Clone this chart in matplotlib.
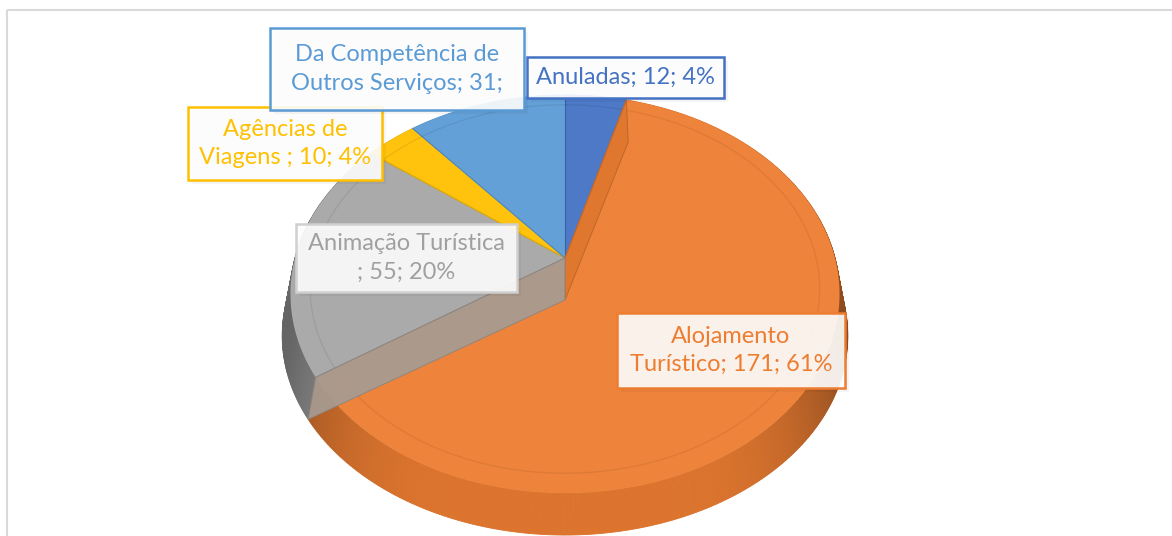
import numpy as np
import matplotlib.pyplot as plt
from matplotlib.patches import Polygon, Rectangle
from matplotlib.colors import to_rgb

# data
categories = ["Anuladas", "Alojamento Turístico", "Animação Turística",
              "Agências de Viagens", "Da Competência de Outros Serviços"]
values = [12, 171, 55, 10, 31]
label_texts = ["Anuladas; 12; 4%",
               "Alojamento\nTurístico; 171; 61%",
               "Animação Turística\n; 55; 20%",
               "Agências de\nViagens ; 10; 4%",
               "Da Competência de\nOutros Serviços; 31;"]
colors = ["#4472C4", "#ED7D31", "#A5A5A5", "#FFC000", "#5B9BD5"]
text_colors = ["#4472C4", "#ED7D31", "#A0A0A0", "#FFC000", "#5B9BD5"]
box_edges = ["#4472C4", "#ED7D31", "#D0D0D0", "#FFC000", "#5B9BD5"]

# layout (pixels)
W, H = 1172, 536
CX, CY = 565, 258          # centre of the top face
RX, RY = 270, 192.5
PERSP = 0.181
DEPTH = 42
WALL_SCALE = 1.03
label_boxes = [(527, 57, 724, 98), (617, 313, 845, 388), (296, 224, 517, 292),
               (188, 107, 382, 180), (270, 28, 524, 110)]
draw_order = [2, 3, 4, 0, 1]   # labels drawn back to front


def top_pt(t, r=1.0):
    u = r * np.sin(t)
    v = -r * np.cos(t)
    w = 1 - PERSP * v
    return CX + RX * u / w, CY + RY * v / w


def bot_pt(t):
    x, y = top_pt(t)
    return CX + (x - CX) * WALL_SCALE, y + DEPTH


def shade(c, f):
    r, g, b = to_rgb(c)
    return (r * f, g * f, b * f)


def mix(c1, c2, k):
    a, b = np.array(to_rgb(c1)), np.array(to_rgb(c2))
    return tuple(a * (1 - k) + b * k)


fig = plt.figure(figsize=(W / 100, H / 100), dpi=100)
ax = fig.add_axes([0, 0, 1, 1])
ax.set_xlim(0, W)
ax.set_ylim(H, 0)
ax.axis("off")

total = sum(values)
bounds = np.concatenate([[0], np.cumsum(values) / total * 2 * np.pi])

# side walls
for i in range(len(values)):
    n = max(int(2 * np.degrees(bounds[i + 1] - bounds[i])), 2)
    ts = np.linspace(bounds[i], bounds[i + 1], n)
    for t0, t1 in zip(ts[:-1], ts[1:]):
        x0, y0 = top_pt(t0)
        x1, y1 = top_pt(t1)
        bx0, by0 = bot_pt(t0)
        bx1, by1 = bot_pt(t1)
        s = abs(((x0 + x1) / 2 - CX) / RX)
        c = shade(colors[i], 0.93 - 0.3 * s ** 5)
        ax.add_patch(Polygon([(x0, y0), (x1, y1), (bx1, by1), (bx0, by0)],
                             closed=True, fc=c, ec=c, lw=0.6, zorder=1))

# top faces
for i in range(len(values)):
    ts = np.linspace(bounds[i], bounds[i + 1], 200)
    pts = [(CX, CY)] + [top_pt(t) for t in ts]
    ax.add_patch(Polygon(pts, closed=True, fc=mix(colors[i], "white", 0.05),
                         ec="none", zorder=2))
    ax.plot([CX, pts[1][0]], [CY, pts[1][1]], color=shade(colors[i], 0.85),
            lw=0.8, zorder=2.5)

# faint bevel ring on the top face
ring = np.array([top_pt(t, 0.93) for t in np.linspace(0, 2 * np.pi, 400)])
ax.plot(ring[:, 0], ring[:, 1], color="black", alpha=0.07, lw=1, zorder=2.5)

# radial walls of the big slice seen through the others
for t, c in [(bounds[1], shade(colors[1], 0.94)),
             (bounds[2], mix(shade(colors[2], 0.96), colors[1], 0.1))]:
    ex, ey = top_pt(t)
    bx, by = bot_pt(t)
    ax.add_patch(Polygon([(CX, CY), (ex, ey), (bx, by), (CX, CY + DEPTH)],
                         closed=True, fc=c, ec=shade(c, 0.85), lw=0.7,
                         alpha=0.92, zorder=3))

# data labels
for i in draw_order:
    x0, y0, x1, y1 = label_boxes[i]
    for k, a in [(2, 0.06), (4, 0.04)]:
        ax.add_patch(Rectangle((x0 + k, y0 + k), x1 - x0, y1 - y0, fc="black",
                               ec="none", alpha=a, zorder=5))
    ax.add_patch(Rectangle((x0, y0), x1 - x0, y1 - y0, fc="white", alpha=0.9,
                           ec="none", zorder=5))
    ax.add_patch(Rectangle((x0, y0), x1 - x0, y1 - y0, fill=False,
                           ec=box_edges[i], lw=1.8, zorder=5))
    ax.text((x0 + x1) / 2, (y0 + y1) / 2, label_texts[i], ha="center",
            va="center", fontsize=17, family="Lato", color=text_colors[i],
            linespacing=1.45, zorder=6)

# chart area border
ax.add_patch(Rectangle((7, 10), W, H, fill=False, ec="#D9D9D9", lw=1.5, zorder=7))

fig.savefig("out.png", dpi=100)
